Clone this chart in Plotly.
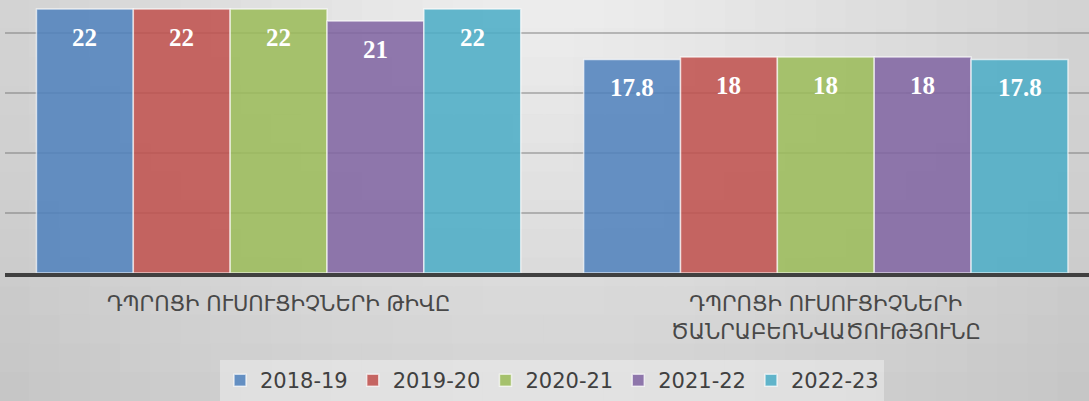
import math
import plotly.graph_objects as go

categories = ["ԴՊՐՈՑԻ ՈՒՍՈՒՑԻՉՆԵՐԻ ԹԻՎԸ", "ԴՊՐՈՑԻ ՈՒՍՈՒՑԻՉՆԵՐԻ<br>ԾԱՆՐԱԲԵՌՆՎԱԾՈՒԹՅՈՒՆԸ"]
series_names = ["2018-19", "2019-20", "2020-21", "2021-22", "2022-23"]
values_2018_19 = [22, 17.8]
values_2019_20 = [22, 18]
values_2020_21 = [22, 18]
values_2021_22 = [21, 18]
values_2022_23 = [22, 17.8]
series_values = [values_2018_19, values_2019_20, values_2020_21, values_2021_22, values_2022_23]
colors = ["rgba(79,129,189,0.86)", "rgba(192,80,77,0.86)", "rgba(155,187,89,0.86)",
          "rgba(128,100,162,0.86)", "rgba(75,172,198,0.86)"]

W, H = 1089, 401
BARGAP = 0.115

fig = go.Figure()
for name, vals, col in zip(series_names, series_values, colors):
    fig.add_trace(go.Bar(
        name=name, x=list(range(len(categories))), y=vals,
        marker=dict(color=col, line=dict(color="rgba(255,255,255,0.65)", width=1.5)),
        hoverinfo="skip",
    ))

# data labels
n = len(series_names)
groupw = 1 - BARGAP
barw = groupw / n
annotations = []
for i, vals in enumerate(series_values):
    for c, v in enumerate(vals):
        annotations.append(dict(
            x=c - groupw / 2 + barw * (i + 0.5), y=v, xref="x", yref="y",
            text=f"{v:g}", showarrow=False, yanchor="top", yshift=-13,
            font=dict(family="Liberation Serif", size=25, color="white", weight="bold"),
        ))

# background gradient (decoration)
shapes = []
NX, NY = 36, 14
for ix in range(NX):
    for iy in range(NY):
        cx = (ix + 0.5) / NX * W
        cy = (iy + 0.5) / NY * H
        d = math.sqrt(((cx - 545) / 545) ** 2 + ((cy + 50) / 450) ** 2)
        L = int(round(241 - 31 * d))
        L = max(190, min(242, L))
        shapes.append(dict(
            type="rect", xref="paper", yref="paper", layer="below",
            x0=-5 / 1084 + ix / NX * W / 1084 - 0.001, x1=-5 / 1084 + (ix + 1) / NX * W / 1084 + 0.001,
            y0=(H - 128 - (iy + 1) / NY * H) / 273 - 0.001, y1=(H - 128 - iy / NY * H) / 273 + 0.001,
            fillcolor=f"rgb({L},{L},{L})", line=dict(width=0),
        ))

fig.update_layout(
    width=W, height=H,
    margin=dict(l=5, r=0, t=0, b=128),
    barmode="group", bargap=BARGAP, bargroupgap=0,
    paper_bgcolor="rgb(210,210,210)", plot_bgcolor="rgba(0,0,0,0)",
    showlegend=True,
    legend=dict(orientation="h", x=0.5046, xanchor="center", yref="container", y=-0.008, yanchor="bottom",
                bgcolor="rgba(245,245,245,0.45)", font=dict(family="DejaVu Sans", size=21, color="#404040"),
                itemclick=False, itemdoubleclick=False),
    xaxis=dict(tickmode="array", tickvals=list(range(len(categories))), ticktext=categories,
               range=[-0.5, 1.481], showline=True, linecolor="#404040", linewidth=4,
               showgrid=False, ticks="", zeroline=False, ticklabelstandoff=9, automargin=False,
               tickfont=dict(family="DejaVu Sans", size=21, color="#484848")),
    yaxis=dict(range=[0, 273 / 12], dtick=5, showticklabels=False, showgrid=True, automargin=False,
               gridcolor="rgba(110,110,110,0.42)", gridwidth=2, zeroline=False, showline=False),
    annotations=annotations, shapes=shapes,
)

fig.write_html("out.html", config={"displayModeBar": False},
               post_script="document.body.style.margin='0px';")
